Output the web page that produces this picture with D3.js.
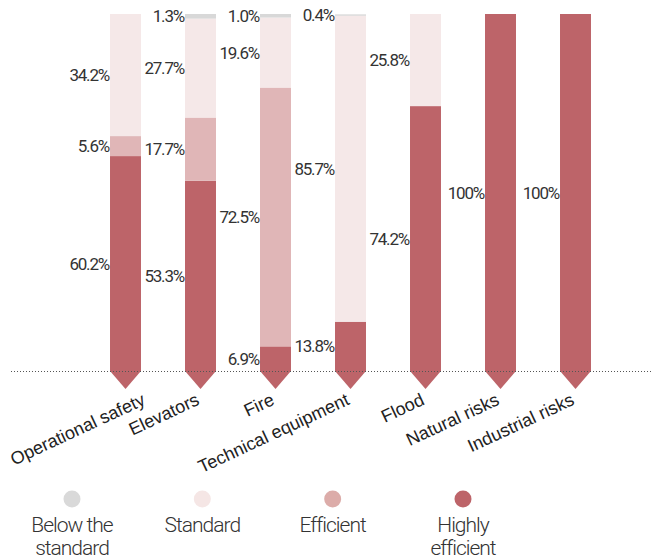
<!DOCTYPE html>
<html>
<head>
<meta charset="utf-8">
<script src="https://cdn.jsdelivr.net/npm/d3@7"></script>
<style>
  html, body { margin: 0; padding: 0; background: #fff; }
  svg { display: block; }
  .value { font-family: Roboto, "Liberation Sans", sans-serif; font-size: 17px; letter-spacing: -1.2px; fill: #333; }
  .cat { font-family: "Liberation Sans", Arial, sans-serif; font-size: 18px; fill: #222; }
  .legend-text { font-family: Roboto, sans-serif; font-weight: 300; font-size: 21px; letter-spacing: -1px; fill: #333; }
</style>
</head>
<body>
<script>
// Categories and shares (%) per rating level
const categories = ["Operational safety", "Elevators", "Fire", "Technical equipment", "Flood", "Natural risks", "Industrial risks"];
const highlyEfficient = [60.2, 53.3, 6.9, 13.8, 74.2, 100, 100];
const efficient       = [5.6, 17.7, 72.5, 0, 0, 0, 0];
const standard        = [34.2, 27.7, 19.6, 85.7, 25.8, 0, 0];
const belowStandard   = [0, 1.3, 1.0, 0.4, 0, 0, 0];

const seriesKeys   = ["highlyEfficient", "efficient", "standard", "belowStandard"];
const seriesNames  = ["Highly efficient", "Efficient", "Standard", "Below the standard"];
const seriesColors = ["#bd6469", "#e0b6b7", "#f5e8e8", "#d8d8d8"];

// Legend order, left to right
const legendKeys   = ["belowStandard", "standard", "efficient", "highlyEfficient"];
const legendLines  = [["Below the", "standard"], ["Standard"], ["Efficient"], ["Highly", "efficient"]];
const legendColors = ["#d9d9d9", "#f5e6e5", "#dcaca9", "#bd6469"];

const W = 653, H = 559;
const baseY = 371, topY = 14, arrowH = 18;

const rows = categories.map((c, i) => ({
  category: c,
  highlyEfficient: highlyEfficient[i],
  efficient: efficient[i],
  standard: standard[i],
  belowStandard: belowStandard[i]
}));

const svg = d3.select("body").append("svg").attr("width", W).attr("height", H);

const x = d3.scaleBand().domain(categories).range([88, 613]).paddingInner(0.587).paddingOuter(0.2935);
const y = d3.scaleLinear().domain([0, 100]).range([baseY, topY]);
const color = d3.scaleOrdinal().domain(seriesKeys).range(seriesColors);

const stacked = d3.stack().keys(seriesKeys)(rows);

// Stacked bar segments
const layers = svg.append("g").selectAll("g")
  .data(stacked).join("g")
  .attr("fill", d => color(d.key));

layers.selectAll("rect")
  .data(d => d.filter(s => s[1] - s[0] > 0))
  .join("rect")
  .attr("x", d => x(d.data.category))
  .attr("width", x.bandwidth())
  .attr("y", d => y(d[1]))
  .attr("height", d => y(d[0]) - y(d[1]));

// Arrow tips under each bar
svg.append("g").selectAll("path")
  .data(rows).join("path")
  .attr("fill", color("highlyEfficient"))
  .attr("d", d => {
    const x0 = x(d.category), x1 = x0 + x.bandwidth();
    return `M${x0},${baseY} L${x1},${baseY} L${(x0 + x1) / 2},${baseY + arrowH} Z`;
  });

// Dotted baseline
svg.append("line")
  .attr("x1", 11).attr("x2", W)
  .attr("y1", baseY + 0.5).attr("y2", baseY + 0.5)
  .attr("stroke", "#555").attr("stroke-width", 1)
  .attr("stroke-dasharray", "1,2");

// Value labels to the left of each segment
const fmt = v => v === 100 ? "100%" : v.toFixed(1) + "%";
const labelData = [];
stacked.forEach(layer => layer.forEach(s => {
  const v = s[1] - s[0];
  if (v > 0) labelData.push({ category: s.data.category, v, mid: (s[0] + s[1]) / 2 });
}));
svg.append("g").selectAll("text")
  .data(labelData).join("text")
  .attr("class", "value")
  .attr("x", d => x(d.category) - 1)
  .attr("y", d => y(d.mid))
  .attr("dy", "0.36em")
  .attr("text-anchor", "end")
  .text(d => fmt(d.v));

// Rotated category labels, nudged right when they would run past the left edge
const angle = -25;
const rad = Math.abs(angle) * Math.PI / 180;
const catLabels = svg.append("g").selectAll("text")
  .data(categories).join("text")
  .attr("class", "cat")
  .attr("text-anchor", "end")
  .text(c => c);
catLabels.each(function (c) {
  const len = this.getComputedTextLength();
  let ex = x(c) + x.bandwidth() / 2;
  const minStart = 14;
  if (ex - len * Math.cos(rad) < minStart) ex = minStart + len * Math.cos(rad);
  d3.select(this).attr("transform", `translate(${ex},${baseY + 33}) rotate(${angle})`);
});

// Legend
const lx = d3.scalePoint().domain(legendKeys).range([72, 463]);
const leg = svg.append("g").selectAll("g")
  .data(legendKeys).join("g")
  .attr("transform", k => `translate(${lx(k)},0)`);
leg.append("circle")
  .attr("cy", 499).attr("r", 8.5)
  .attr("fill", (k, i) => legendColors[i]);
leg.append("text")
  .attr("class", "legend-text")
  .attr("text-anchor", "middle")
  .selectAll("tspan")
  .data((k, i) => legendLines[i])
  .join("tspan")
  .attr("x", 0)
  .attr("y", (t, j) => 532 + j * 23)
  .text(t => t);
</script>
</body>
</html>
